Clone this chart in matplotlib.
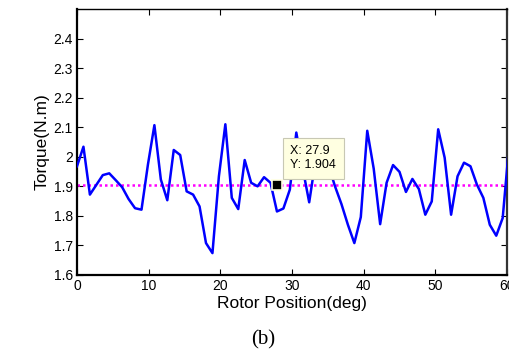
import matplotlib.pyplot as plt
import numpy as np

# rotor position samples (deg) and torque ripple (N.m)
step = 0.9
torque = [1.968, 2.034, 1.872, 1.905, 1.938, 1.944, 1.921, 1.897, 1.857, 1.826,
          1.821, 1.974, 2.107, 1.923, 1.853, 2.023, 2.006, 1.883, 1.872, 1.832,
          1.708, 1.674, 1.934, 2.110, 1.861, 1.823, 1.989, 1.912, 1.900, 1.931,
          1.912, 1.815, 1.825, 1.889, 2.082, 1.960, 1.846, 1.990, 1.950, 1.970,
          1.900, 1.840, 1.770, 1.708, 1.796, 2.088, 1.960, 1.772, 1.912, 1.972,
          1.949, 1.881, 1.925, 1.891, 1.804, 1.849, 2.093, 1.997, 1.804, 1.934,
          1.980, 1.968, 1.906, 1.861, 1.770, 1.733, 1.793, 2.040]
position = np.arange(len(torque)) * step
avg_torque = 1.904
tip_x, tip_y = 27.9, 1.904

xticks = [0, 10, 20, 30, 40, 50, 60]
yticks = [1.6, 1.7, 1.8, 1.9, 2.0, 2.1, 2.2, 2.3, 2.4]
yticklabels = ['1.6', '1.7', '1.8', '1.9', '2', '2.1', '2.2', '2.3', '2.4']

plt.rcParams['font.family'] = ['Liberation Sans', 'DejaVu Sans']

fig = plt.figure(figsize=(5.10, 3.53), dpi=100)
ax = fig.add_axes([77 / 510, 1 - 275 / 353, 430 / 510, 266 / 353])

ax.plot(position, torque, color='#0000ff', lw=1.8, zorder=3)
ax.plot(position, [avg_torque] * len(position), color='#ff00ff', lw=1.8,
        linestyle=(0, (1, 1.2)), zorder=2)

# data tip on the mean line
ax.plot(tip_x, tip_y, marker='s', ms=7, color='black', mec='#ffffe1', mew=1.2, zorder=5)
ax.annotate('X: %.1f\nY: %.3f' % (tip_x, tip_y), xy=(tip_x, tip_y), xytext=(9.5, 10),
            textcoords='offset points', fontsize=9, va='bottom', ha='left',
            linespacing=1.25, zorder=6,
            bbox=dict(boxstyle='square,pad=0.6', fc='#ffffe1', ec='#c8c8b4', lw=0.8))

ax.set_xlim(0, 60)
ax.set_ylim(1.6, 2.5)
ax.set_xticks(xticks)
ax.set_yticks(yticks)
ax.set_yticklabels(yticklabels)
ax.tick_params(direction='in', length=4, width=0.8, labelsize=10, pad=3,
               top=True, right=True, colors='black')
for side in ['left', 'bottom', 'right']:
    ax.spines[side].set_linewidth(1.6)
ax.spines['top'].set_linewidth(1.0)
ax.spines['right'].set_color('#333333')

ax.set_xlabel('Rotor Position(deg)', fontsize=12.5, labelpad=2)
ax.set_ylabel('Torque(N.m)', fontsize=12.5, labelpad=3)

fig.text(263 / 510, 1 - 340 / 353, '(b)', fontsize=15, ha='center', va='center',
         family=['Liberation Serif', 'DejaVu Serif'])

fig.savefig('out.png', dpi=100)
